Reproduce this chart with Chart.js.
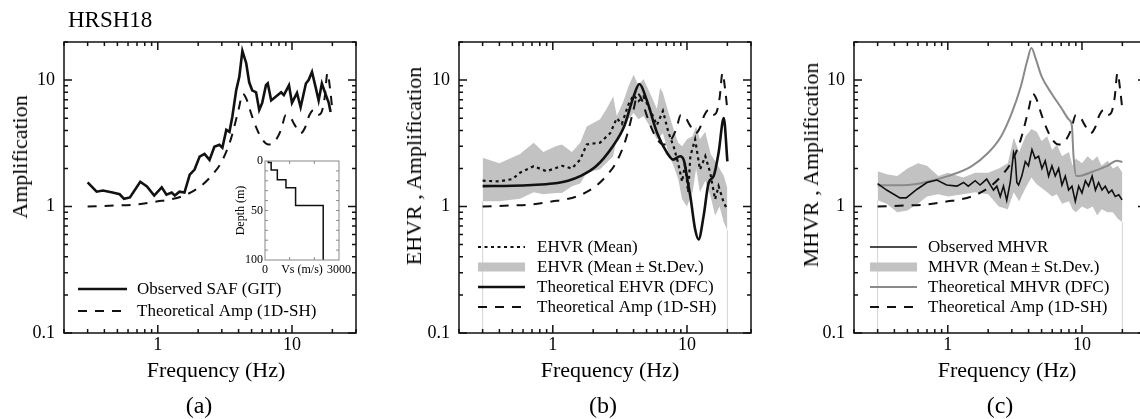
<!DOCTYPE html>
<html>
<head>
<meta charset="utf-8">
<script src="https://cdn.jsdelivr.net/npm/chart.js@4.4.1/dist/chart.umd.min.js"></script>
<style>
  html, body { margin: 0; padding: 0; background: #fff; overflow: hidden; }
  #wrap { position: relative; width: 1140px; height: 419px; overflow: hidden;
          font-family: "Liberation Serif", "Times New Roman", serif; color: #000; }
  canvas { position: absolute; }
  .t { position: absolute; white-space: nowrap; line-height: 1; transform: translate(-50%, -50%); }
  .ty { transform: translate(-50%, -50%) rotate(-90deg); }
</style>
</head>
<body>
<div id="wrap">
  <canvas id="ca" width="395" height="419" style="left:0;top:0"></canvas>
  <canvas id="cb" width="395" height="419" style="left:395px;top:0"></canvas>
  <canvas id="cc" width="395" height="419" style="left:790px;top:0"></canvas>
  <canvas id="ci" width="130" height="135" style="left:225px;top:150px"></canvas>

  <div class="t" style="left:68px;top:8px;transform:none;font-size:23px">HRSH18</div>

  <div class="t ty" style="left:20px;top:157px;font-size:22px">Amplification</div>
  <div class="t ty" style="left:414px;top:166px;font-size:22px">EHVR , Amplification</div>
  <div class="t ty" style="left:811px;top:165px;font-size:22px">MHVR , Amplification</div>

  <div class="t" style="left:216px;top:370px;font-size:22px">Frequency (Hz)</div>
  <div class="t" style="left:610px;top:370px;font-size:22px">Frequency (Hz)</div>
  <div class="t" style="left:1007px;top:370px;font-size:22px">Frequency (Hz)</div>

  <div class="t" style="left:199px;top:405px;font-size:24px">(a)</div>
  <div class="t" style="left:603px;top:405px;font-size:24px">(b)</div>
  <div class="t" style="left:1000px;top:405px;font-size:24px">(c)</div>
</div>

<script>
// ---- data -------------------------------------------------------------------

const xTickLabels = [1, 10];
const yTickLabels = [0.1, 1, 10];

// (a) observed site amplification (GIT)
const safFreq = [0.30, 0.35, 0.39, 0.46, 0.52, 0.56, 0.62, 0.74, 0.83, 0.94,
                 1.07, 1.16, 1.27, 1.34, 1.45, 1.58, 1.73, 1.88, 2.05, 2.23,
                 2.43, 2.64, 2.88, 3.03, 3.24, 3.42, 3.59, 3.84, 4.05, 4.27,
                 4.56, 4.8, 5.05, 5.4, 5.7, 6.0, 6.4, 6.6, 7.0, 7.6,
                 8.3, 8.7, 9.5, 10.0, 10.9, 11.6, 12.7, 13.3, 14.1, 15.0,
                 15.8, 16.7, 17.9, 18.8, 19.4];
const safAmp  = [1.55, 1.31, 1.34, 1.29, 1.25, 1.15, 1.18, 1.57, 1.44, 1.22,
                 1.42, 1.24, 1.29, 1.22, 1.31, 1.29, 1.79, 1.96, 2.48, 2.61,
                 2.34, 2.97, 3.08, 2.92, 4.04, 3.9, 5.1, 8.3, 10.6, 17.0,
                 13.6, 9.6, 8.3, 8.0, 5.8, 6.6, 9.1, 9.4, 6.9, 7.4,
                 8.0, 7.6, 9.1, 6.6, 7.9, 6.1, 9.4, 10.0, 11.6, 8.8,
                 6.9, 9.4, 7.6, 6.6, 5.6];

// theoretical 1D-SH amplification (same in all panels)
const ampFreq   = [0.3, 0.5, 0.7, 1.0, 1.2, 1.5, 2.0, 2.5, 3.0, 3.5,
                   4.0, 4.3, 4.6, 5.0, 5.5, 6.0, 6.7, 7.5, 8.3, 9.0,
                   9.7, 10.5, 11.6, 12.5, 13.5, 14.5, 15.5, 16.5, 17.5, 18.4,
                   19.3, 20];
const ampTheory = [1.0, 1.02, 1.04, 1.1, 1.13, 1.2, 1.4, 1.74, 2.28, 3.4,
                   5.85, 7.8, 7.0, 5.3, 4.06, 3.4, 3.09, 3.3, 4.06, 5.3,
                   5.1, 4.4, 3.8, 4.2, 5.3, 5.8, 5.3, 5.5, 7.2, 11.4,
                   8.2, 5.8];

// (b) EHVR
const ehvrMeanFreq = [0.3, 0.4, 0.5, 0.57, 0.72, 0.9, 1.17, 1.39, 1.6, 1.79,
                      2.25, 2.68, 3.0, 3.27, 3.66, 4.0, 4.35, 4.74, 5.3, 5.97,
                      6.62, 7.3, 7.94, 8.6, 9.2, 9.7, 10.2, 10.6, 11.5, 12.5,
                      13.7, 14.9, 16.2, 17.2, 18.8, 20];
const ehvrMean     = [1.6, 1.58, 1.65, 1.85, 2.08, 1.9, 2.1, 2.0, 2.35, 3.1,
                      3.2, 3.8, 5.0, 4.5, 6.4, 7.6, 6.8, 7.4, 5.85, 4.4,
                      5.7, 3.8, 3.0, 2.2, 1.57, 2.2, 1.3, 2.5, 3.4, 1.96,
                      2.5, 1.85, 1.14, 1.45, 1.07, 0.95];

const ehvrBandFreq = [0.3, 0.4, 0.57, 0.72, 0.85, 1.05, 1.17, 1.39, 1.6, 1.79,
                      2.25, 2.5, 2.82, 3.0, 3.36, 3.66, 4.0, 4.35, 4.74, 5.3,
                      5.97, 6.3, 6.62, 7.3, 7.94, 8.6, 9.2, 10, 11, 11.7,
                      12.5, 13.7, 15, 16.2, 17.5, 18.8, 20];
const ehvrUpper    = [2.43, 2.2, 2.6, 3.2, 2.7, 3.0, 3.1, 2.7, 3.2, 4.3,
                      4.9, 5.85, 7.4, 5.2, 6.8, 8.9, 11.0, 9.1, 10.2, 7.9,
                      5.9, 8.7, 7.9, 5.5, 4.1, 3.2, 3.0, 3.4, 3.6, 4.3,
                      3.4, 3.9, 2.6, 2.3, 2.0, 1.75, 1.4];
const ehvrLower    = [1.1, 1.1, 1.15, 1.3, 1.25, 1.28, 1.28, 1.45, 1.52, 1.85,
                      1.97, 2.2, 2.5, 3.5, 4.0, 4.9, 5.5, 4.9, 5.2, 4.3,
                      3.4, 3.6, 3.8, 2.6, 2.1, 1.65, 1.14, 1.0, 1.3, 2.0,
                      1.3, 1.6, 1.2, 0.85, 1.0, 0.75, 0.65];

const dfcEhvrFreq = [0.3, 0.5, 0.7, 1.0, 1.3, 1.6, 2.1, 2.8, 3.4, 4.0,
                     4.42, 5.0, 6.0, 7.1, 7.9, 8.9, 9.5, 10.1, 10.6, 11.5,
                     12.2, 13.3, 14.5, 15.8, 17.2, 18.8, 20];
const dfcEhvr     = [1.45, 1.46, 1.48, 1.52, 1.6, 1.74, 2.08, 3.0, 4.3, 7.4,
                     9.3, 7.0, 3.8, 2.66, 2.35, 2.5, 2.3, 1.6, 1.2, 0.66,
                     0.55, 0.84, 1.54, 1.74, 2.66, 5.0, 2.28];

// (c) MHVR
const mhvrObsFreq = [0.3, 0.35, 0.44, 0.49, 0.59, 0.7, 0.83, 0.98, 1.17, 1.31,
                     1.42, 1.6, 1.74, 1.95, 2.19, 2.32, 2.46, 2.6, 2.75, 2.92,
                     3.09, 3.18, 3.27, 3.37, 3.56, 3.78, 3.99, 4.24, 4.48, 4.75,
                     5.03, 5.32, 5.64, 5.97, 6.32, 6.7, 7.09, 7.51, 7.95, 8.42,
                     8.92, 9.45, 10.0, 10.6, 11.2, 11.9, 12.6, 13.3, 14.1, 14.9,
                     15.8, 16.7, 17.7, 18.8, 19.9];
const mhvrObs     = [1.52, 1.35, 1.17, 1.17, 1.37, 1.55, 1.62, 1.48, 1.45, 1.55,
                     1.45, 1.6, 1.48, 1.65, 1.35, 1.45, 1.2, 1.45, 1.12, 1.55,
                     2.66, 2.4, 1.55, 1.48, 1.74, 2.27, 2.1, 2.82, 2.4, 2.5,
                     2.0, 2.3, 1.74, 2.1, 1.74, 2.0, 1.48, 1.74, 1.35, 1.45,
                     1.1, 1.45, 1.28, 1.6, 1.45, 1.74, 1.35, 1.55, 1.35, 1.45,
                     1.28, 1.35, 1.2, 1.24, 1.13];

const mhvrBandFreq = [0.3, 0.35, 0.42, 0.5, 0.6, 0.7, 0.85, 1.0, 1.3, 1.6,
                      2.0, 2.4, 2.8, 3.1, 3.4, 3.8, 4.2, 4.6, 5.0, 5.5,
                      6.0, 6.5, 7.1, 8.0, 8.5, 9.0, 10, 11, 12, 13,
                      14, 15.5, 17, 18.5, 20];
const mhvrUpper    = [1.9, 1.8, 1.74, 2.0, 2.2, 2.1, 1.74, 1.85, 1.7, 1.85,
                      1.85, 2.0, 2.2, 3.5, 2.7, 3.6, 4.1, 3.9, 3.3, 3.6,
                      2.8, 3.1, 2.5, 2.7, 2.1, 2.4, 2.2, 2.5, 2.3, 2.5,
                      2.1, 2.3, 2.0, 2.1, 1.85];
const mhvrLower    = [1.12, 1.05, 0.9, 0.93, 1.05, 1.2, 1.25, 1.2, 1.25, 1.3,
                      1.25, 1.0, 0.95, 1.3, 1.1, 1.4, 1.7, 1.5, 1.4, 1.3,
                      1.2, 1.25, 1.05, 1.1, 0.95, 0.9, 1.0, 0.95, 1.0, 0.85,
                      0.95, 0.9, 0.9, 0.8, 0.75];

const dfcMhvrFreq = [0.3, 0.5, 0.7, 1.0, 1.5, 2.0, 2.5, 3.0, 3.5, 3.9,
                     4.2, 4.5, 5.0, 6.0, 7.0, 8.0, 8.4, 8.65, 9.1, 10,
                     12.2, 15.4, 18.2, 20];
const dfcMhvr     = [1.47, 1.48, 1.57, 1.74, 2.08, 2.66, 3.6, 5.5, 8.9, 14.1,
                     17.9, 15, 10.7, 7.7, 6.04, 4.87, 4.4, 2.5, 1.74, 1.76,
                     1.9, 2.1, 2.3, 2.25];

// frequency limits of the HVR windows (thin grey verticals)
const edgeFreq = [0.3, 20];
const axisFloor = 0.1;

// inset: Vs profile
const vsLayers  = [135, 250, 500, 850, 1240, 2360];
const layerTops = [0, 1.5, 9, 19, 27, 45];
const profileBottom = 100;

// ---- helpers ------------------------------------------------------------------

const FONT = '"Liberation Serif", "Times New Roman", serif';
Chart.defaults.font.family = FONT;
Chart.defaults.color = '#000';

const pts = (xs, ys) => xs.map((x, i) => ({ x, y: ys[i] }));

function decadeLabel(v, list) {
  const hit = list.find(d => Math.abs(v / d - 1) < 1e-6);
  return hit === undefined ? '' : String(hit);
}

function logTickValues(min, max) {
  const out = [];
  for (let e = Math.floor(Math.log10(min)); e <= Math.ceil(Math.log10(max)); e++) {
    for (let k = 1; k <= 9; k++) {
      const v = k * Math.pow(10, e);
      if (v >= min * 0.999 && v <= max * 1.001) out.push({ v, major: k === 1 });
    }
  }
  return out;
}

function line(label, xs, ys, style) {
  return Object.assign({
    label, data: pts(xs, ys), pointRadius: 0, borderColor: '#111',
    borderWidth: 2, fill: false, tension: 0
  }, style);
}

function band(label, xs, upper, lower) {
  return [
    { label, data: pts(xs, upper), pointRadius: 0, borderWidth: 0,
      borderColor: 'rgba(0,0,0,0)', backgroundColor: '#c2c2c2', fill: '+1', order: 10 },
    { label: '', data: pts(xs, lower), pointRadius: 0, borderWidth: 0,
      borderColor: 'rgba(0,0,0,0)', fill: false, order: 10 }
  ];
}

function edges(lower) {
  return edgeFreq.map((f, i) => ({
    label: '', data: [{ x: f, y: axisFloor }, { x: f, y: i === 0 ? lower[0] : lower[lower.length - 1] }],
    pointRadius: 0, borderWidth: 1, borderColor: '#d4d4d4', fill: false, order: 9
  }));
}

// frame + inward ticks on all four sides
const framePlugin = {
  id: 'frame',
  afterDatasetsDraw(chart, args, o) {
    if (!o || !o.xTicks) return;
    const { ctx, chartArea: a, scales } = chart;
    ctx.save();
    ctx.strokeStyle = o.color;
    ctx.lineWidth = o.width;
    ctx.setLineDash([]);
    ctx.beginPath();
    o.xTicks.forEach(t => {
      const p = scales.x.getPixelForValue(t.v);
      const L = t.major ? o.major : o.minor;
      ctx.moveTo(p, a.bottom); ctx.lineTo(p, a.bottom - L);
      ctx.moveTo(p, a.top);    ctx.lineTo(p, a.top + L);
    });
    o.yTicks.forEach(t => {
      const p = scales.y.getPixelForValue(t.v);
      const L = t.major ? o.major : o.minor;
      ctx.moveTo(a.left, p);  ctx.lineTo(a.left + L, p);
      ctx.moveTo(a.right, p); ctx.lineTo(a.right - L, p);
    });
    ctx.stroke();
    ctx.strokeRect(a.left, a.top, a.right - a.left, a.bottom - a.top);
    ctx.restore();
  }
};

// legend drawn inside the plot box
const legendPlugin = {
  id: 'boxLegend',
  afterDraw(chart, args, o) {
    if (!o || !o.items) return;
    const { ctx, chartArea: a } = chart;
    ctx.save();
    ctx.font = '17px ' + FONT;
    ctx.textBaseline = 'middle';
    o.items.forEach((idx, i) => {
      const ds = chart.data.datasets[idx];
      const y = a.top + o.top + i * o.rowH;
      const x0 = a.left + o.left, x1 = x0 + o.sample;
      if (ds.fill) {
        ctx.fillStyle = ds.backgroundColor;
        ctx.fillRect(x0, y - 4.5, x1 - x0, 9);
      } else {
        ctx.strokeStyle = ds.borderColor;
        ctx.lineWidth = ds.borderWidth;
        ctx.setLineDash(ds.borderDash || []);
        ctx.beginPath(); ctx.moveTo(x0, y); ctx.lineTo(x1, y); ctx.stroke();
      }
      ctx.fillStyle = '#000';
      ctx.fillText(ds.label, x1 + o.gap, y + 1);
    });
    ctx.restore();
  }
};

const X_MIN = 0.2, X_MAX = 30, Y_MIN = 0.1, Y_MAX = 20;

function panel(id, datasets, legend) {
  return new Chart(document.getElementById(id), {
    type: 'line',
    data: { datasets },
    options: {
      responsive: false, animation: false, events: [],
      layout: { padding: { left: 0, right: 39, top: 42, bottom: 0 } },
      scales: {
        x: {
          type: 'logarithmic', min: X_MIN, max: X_MAX,
          grid: { display: false, drawTicks: false }, border: { display: false },
          ticks: { autoSkip: false, maxRotation: 0, padding: 1, font: { size: 18 },
                   callback: v => decadeLabel(v, xTickLabels) },
          afterFit: s => { s.height = 86; }
        },
        y: {
          type: 'logarithmic', min: Y_MIN, max: Y_MAX,
          grid: { display: false, drawTicks: false }, border: { display: false },
          ticks: { autoSkip: false, padding: 9, font: { size: 18 },
                   callback: v => decadeLabel(v, yTickLabels) },
          afterFit: s => { s.width = 64; }
        }
      },
      plugins: {
        legend: { display: false }, tooltip: { enabled: false },
        frame: { color: '#111', width: 1.5, major: 8, minor: 4,
                 xTicks: logTickValues(X_MIN, X_MAX), yTicks: logTickValues(Y_MIN, Y_MAX) },
        boxLegend: legend
      }
    },
    plugins: [framePlugin, legendPlugin]
  });
}

const dashStyle = { borderDash: [9, 8], borderWidth: 2, cubicInterpolationMode: 'monotone' };

// ---- (a) ----------------------------------------------------------------------
panel('ca', [
  line('Observed SAF (GIT)', safFreq, safAmp, { borderWidth: 2.6 }),
  line('Theoretical Amp (1D-SH)', ampFreq, ampTheory, dashStyle)
], { items: [0, 1], left: 14, top: 247, rowH: 22, sample: 49, gap: 10 });

// ---- (b) ----------------------------------------------------------------------
panel('cb', [
  line('EHVR (Mean)', ehvrMeanFreq, ehvrMean, { borderDash: [3, 3.5], borderWidth: 2.2 }),
  line('Theoretical EHVR (DFC)', dfcEhvrFreq, dfcEhvr, { borderWidth: 2.6, cubicInterpolationMode: 'monotone' }),
  line('Theoretical Amp (1D-SH)', ampFreq, ampTheory, dashStyle),
  ...band('EHVR (Mean\u2009±\u2009St.Dev.)', ehvrBandFreq, ehvrUpper, ehvrLower),
  ...edges(ehvrLower)
], { items: [0, 3, 1, 2], left: 19, top: 205, rowH: 20, sample: 47, gap: 12 });

// ---- (c) ----------------------------------------------------------------------
panel('cc', [
  line('Observed MHVR', mhvrObsFreq, mhvrObs, { borderWidth: 1.6 }),
  line('Theoretical MHVR (DFC)', dfcMhvrFreq, dfcMhvr, { borderWidth: 2, borderColor: '#8a8a8a', cubicInterpolationMode: 'monotone' }),
  line('Theoretical Amp (1D-SH)', ampFreq, ampTheory, dashStyle),
  ...band('MHVR (Mean\u2009±\u2009St.Dev.)', mhvrBandFreq, mhvrUpper, mhvrLower),
  ...edges(mhvrLower)
], { items: [0, 3, 1, 2], left: 16, top: 205, rowH: 20, sample: 47, gap: 11 });

// ---- inset: Vs profile ----------------------------------------------------------
const profile = [];
vsLayers.forEach((vs, i) => {
  profile.push({ x: vs, y: layerTops[i] });
  profile.push({ x: vs, y: i + 1 < layerTops.length ? layerTops[i + 1] : profileBottom });
});

new Chart(document.getElementById('ci'), {
  type: 'line',
  data: { datasets: [{ data: profile, borderColor: '#111', borderWidth: 1.5, pointRadius: 0, tension: 0, fill: false }] },
  options: {
    responsive: false, animation: false, events: [],
    layout: { padding: { left: 0, right: 16, top: 11, bottom: 0 } },
    scales: {
      x: {
        type: 'linear', min: 0, max: 3000,
        grid: { display: false, drawTicks: false }, border: { display: false },
        ticks: { stepSize: 500, autoSkip: false, maxRotation: 0, padding: 3, font: { size: 12 },
                 callback: v => v === 0 ? '0' : v === 3000 ? '3000' : v === 1500 ? 'Vs (m/s)' : '' },
        afterFit: s => { s.height = 25; }
      },
      y: {
        type: 'linear', reverse: true, min: 0, max: profileBottom,
        grid: { display: false, drawTicks: false }, border: { display: false },
        ticks: { stepSize: 10, autoSkip: false, padding: 2, font: { size: 12 },
                 callback: v => [0, 50, 100].includes(v) ? String(v) : '' },
        title: { display: true, text: 'Depth (m)', font: { size: 12 }, padding: { top: 9, bottom: 0 } },
        afterFit: s => { s.width = 40; }
      }
    },
    plugins: {
      legend: { display: false }, tooltip: { enabled: false },
      frame: { color: '#888', width: 1, major: 3, minor: 3,
               xTicks: [{ v: 1000 }, { v: 2000 }],
               yTicks: [10, 20, 30, 40, 50, 60, 70, 80, 90].map(v => ({ v })) }
    }
  },
  plugins: [framePlugin]
});
</script>
</body>
</html>
